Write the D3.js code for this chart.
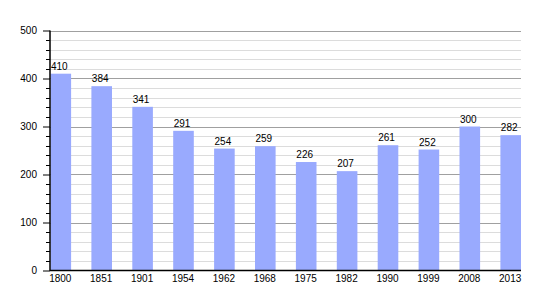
<!DOCTYPE html>
<html><head><meta charset="utf-8">
<script src="https://cdn.jsdelivr.net/npm/d3@7"></script>
<style>body{margin:0;background:#fff}svg{display:block}text{font-family:"Liberation Sans",Arial,sans-serif;font-size:10px;fill:#000}</style>
</head><body><svg id="c" width="550" height="300"></svg>
<script>
const years = ["1800","1851","1901","1954","1962","1968","1975","1982","1990","1999","2008","2013"];
const population = [410,384,341,291,254,259,226,207,261,252,300,282];
const yTicks = [0,100,200,300,400,500];

(function(){
const svg = d3.select("#c");
const mLeft = 50, mRight = 521, mTop = 30.5, mBottom = 270.5;
const x = d3.scaleBand().domain(years).range([mLeft, mLeft + 12*40.9]);
const barW = 20.6;
const y = d3.scaleLinear().domain([0,500]).range([mBottom, mTop]);

const minor = d3.range(20, 501, 20).filter(v => v % 100 !== 0);
svg.append("g").selectAll("line").data(minor).join("line")
  .attr("x1", mLeft).attr("x2", mRight)
  .attr("y1", d => Math.round(y(d))+0.5).attr("y2", d => Math.round(y(d))+0.5)
  .attr("stroke", "#dcdcdc").attr("stroke-width", 1);
svg.append("g").selectAll("line").data(yTicks.slice(1)).join("line")
  .attr("x1", mLeft).attr("x2", mRight)
  .attr("y1", d => Math.round(y(d))+0.5).attr("y2", d => Math.round(y(d))+0.5)
  .attr("stroke", "#a0a0a0").attr("stroke-width", 1);

svg.append("g").selectAll("rect").data(population).join("rect")
  .attr("x", (d,i) => x(years[i]) + 0.5)
  .attr("width", barW)
  .attr("y", d => y(d))
  .attr("height", d => mBottom - y(d))
  .attr("fill", "#99aafe");

svg.append("g").selectAll("text").data(population).join("text")
  .attr("x", (d,i) => x(years[i]) + barW/2 - 1)
  .attr("y", d => y(d) - 4)
  .attr("text-anchor", "middle")
  .text(d => d);

const yAxis = d3.axisLeft(y).tickValues(yTicks).tickSize(7).tickPadding(6);
const ga = svg.append("g").attr("transform", `translate(${mLeft},0)`).call(yAxis);
ga.select(".domain").remove();
ga.selectAll(".tick line").attr("stroke", "#000");
ga.selectAll("text").style("font-size", "10px").style("font-family", '"Liberation Sans",Arial,sans-serif').attr("fill", "#000");
svg.append("g").selectAll("line").data(minor).join("line")
  .attr("x1", mLeft - 4).attr("x2", mLeft)
  .attr("y1", d => Math.round(y(d))+0.5).attr("y2", d => Math.round(y(d))+0.5)
  .attr("stroke", "#000");
svg.append("line").attr("x1", mLeft).attr("x2", mLeft).attr("y1", mTop).attr("y2", mBottom+0.5)
  .attr("stroke", "#000").attr("stroke-width", 1.5);

svg.append("line").attr("x1", mLeft).attr("x2", mRight).attr("y1", mBottom).attr("y2", mBottom)
  .attr("stroke", "#000").attr("stroke-width", 1.5);
svg.append("g").selectAll("text").data(years).join("text")
  .attr("x", d => x(d) + barW/2)
  .attr("y", 282)
  .attr("text-anchor", "middle")
  .text(d => d);
})();
</script></body></html>
